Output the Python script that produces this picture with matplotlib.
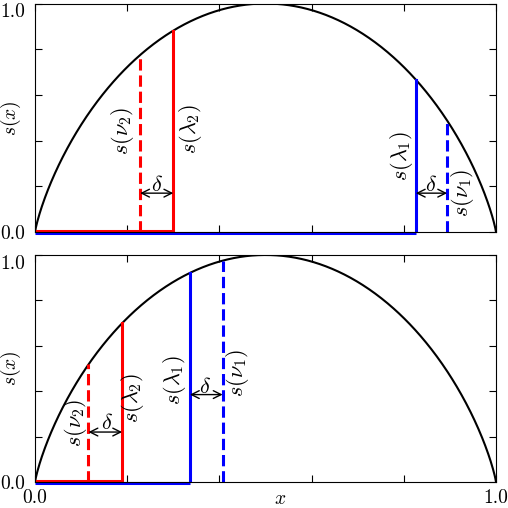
import numpy as np
import matplotlib
matplotlib.use("Agg")
import matplotlib.pyplot as plt

plt.rcParams['font.family'] = 'serif'
plt.rcParams['font.serif'] = ['cmr10']
plt.rcParams['mathtext.fontset'] = 'cm'
plt.rcParams['axes.formatter.use_mathtext'] = True
plt.rcParams['font.size'] = 14

# positions of lambda / nu (top panel, bottom panel)
lam1 = [0.826, 0.336]
nu1 = [0.894, 0.407]
lam2 = [0.300, 0.189]
nu2 = [0.228, 0.116]

# heights of the delta arrows
arrow_y_red = [0.17, 0.22]
arrow_y_blue = [0.17, 0.385]

# label positions (x, y) in data coords
lab_nu2 = [(0.19, 0.44), (0.088, 0.26)]
lab_lam2 = [(0.338, 0.45), (0.212, 0.37)]
lab_lam1 = [(0.795, 0.33), (0.302, 0.45)]
lab_nu1 = [(0.927, 0.17), (0.44, 0.48)]
lab_d_red = [(0.265, 0.205), (0.156, 0.26)]
lab_d_blue = [(0.859, 0.205), (0.369, 0.42)]


def s(x):
    """ binary entropy """
    x = np.asarray(x, dtype=float)
    with np.errstate(divide='ignore', invalid='ignore'):
        h = -x * np.log2(x) - (1 - x) * np.log2(1 - x)
    return np.nan_to_num(h)


fig = plt.figure(figsize=(5.08, 5.08), dpi=100)
ax_top = fig.add_axes([0.0689, 0.5433, 0.9075, 0.4498])
ax_bot = fig.add_axes([0.0689, 0.0512, 0.9075, 0.4469])

xs = np.linspace(0, 1, 600)

for i, ax in enumerate([ax_top, ax_bot]):
    ax.plot(xs, s(xs), color='k', lw=1.5)

    # blue step (lambda1) and dashed nu1
    ax.plot([0, lam1[i]], [-0.006, -0.006], color='b', lw=2.2, clip_on=False,
            solid_capstyle='butt')
    ax.plot([lam1[i], lam1[i]], [-0.006, s(lam1[i])], color='b', lw=2.2)
    ax.plot([nu1[i], nu1[i]], [0, s(nu1[i])], color='b', lw=2.2, ls='--')

    # red step (lambda2) and dashed nu2
    ax.plot([0, lam2[i]], [0.005, 0.005], color='r', lw=2.2, solid_capstyle='butt')
    ax.plot([lam2[i], lam2[i]], [0.005, s(lam2[i])], color='r', lw=2.2)
    ax.plot([nu2[i], nu2[i]], [0, s(nu2[i])], color='r', lw=2.2, ls='--')

    # delta arrows
    ax.annotate('', xy=(lam2[i], arrow_y_red[i]), xytext=(nu2[i], arrow_y_red[i]),
                arrowprops=dict(arrowstyle='<->', color='k', lw=1, shrinkA=0, shrinkB=0))
    ax.annotate('', xy=(nu1[i], arrow_y_blue[i]), xytext=(lam1[i], arrow_y_blue[i]),
                arrowprops=dict(arrowstyle='<->', color='k', lw=1, shrinkA=0, shrinkB=0))

    ax.text(*lab_nu2[i], r'$s(\nu_2)$', rotation=90, ha='center', va='center', fontsize=16)
    ax.text(*lab_lam2[i], r'$s(\lambda_2)$', rotation=90, ha='center', va='center', fontsize=16)
    ax.text(*lab_lam1[i], r'$s(\lambda_1)$', rotation=90, ha='center', va='center', fontsize=16)
    ax.text(*lab_nu1[i], r'$s(\nu_1)$', rotation=90, ha='center', va='center', fontsize=16)
    ax.text(*lab_d_red[i], r'$\delta$', ha='center', va='center', fontsize=16)
    ax.text(*lab_d_blue[i], r'$\delta$', ha='center', va='center', fontsize=16)

    ax.set_xlim(0, 1)
    ax.set_ylim(0, 1)
    ax.set_xticks(np.linspace(0, 1, 6))
    ax.set_yticks(np.linspace(0, 1, 6))
    ax.set_yticklabels(['0.0', '', '', '', '', '1.0'])
    ax.get_yticklabels()[-1].set_va('top')   # keep the top label inside
    ax.tick_params(direction='in', top=True, right=True, length=5)
    ax.tick_params(axis='y', pad=7)
    ax.tick_params(axis='x', pad=5)
    ax.set_ylabel(r'$s(x)$')
    ax.yaxis.set_label_coords(-0.026, 0.5)

ax_top.set_xticklabels([])
ax_bot.set_xticklabels(['0.0', '', '', '', '', '1.0'])
ax_bot.set_xlabel(r'$x$')
ax_bot.xaxis.set_label_coords(0.532, -0.035)

fig.savefig('out.png', dpi=100)
